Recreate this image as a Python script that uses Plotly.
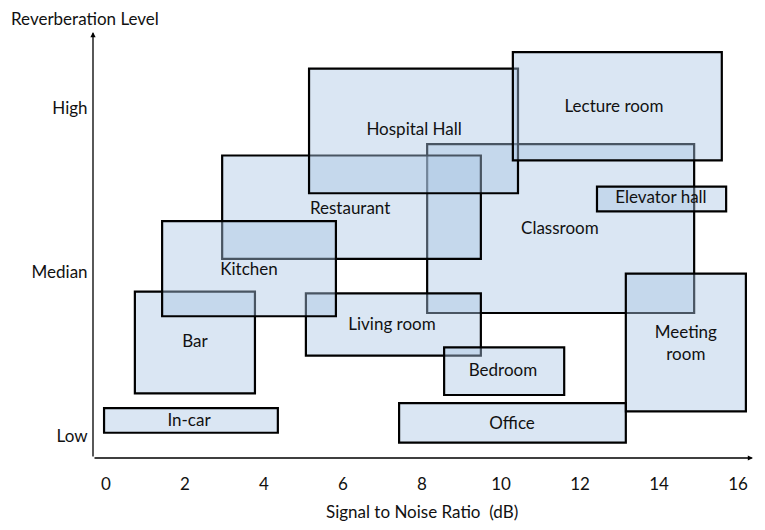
import plotly.graph_objects as go

# rooms, drawn bottom to top (later ones sit over earlier ones)
rooms = ['Classroom', 'Restaurant', 'Hospital Hall', 'Lecture room', 'Elevator hall',
         'Meeting room', 'Bar', 'Living room', 'Kitchen', 'Bedroom', 'Office', 'In-car']
snr_lo = [8.13, 2.94, 5.14, 10.30, 12.43, 13.16, 0.73, 5.06, 1.42, 8.56, 7.42, -0.05]
snr_hi = [14.89, 9.49, 10.43, 15.59, 15.70, 16.20, 3.77, 9.49, 5.82, 11.60, 13.16, 4.35]
rev_lo = [0.75, 1.08, 1.48, 1.68, 1.37, 0.15, 0.26, 0.49, 0.73, 0.25, -0.04, 0.02]
rev_hi = [1.78, 1.71, 2.24, 2.34, 1.52, 0.99, 0.88, 0.87, 1.31, 0.54, 0.20, 0.17]

# where each room name sits
label_x = [11.49, 6.18, 7.80, 12.86, 14.05, 14.68, 2.25, 7.24, 3.62, 10.05, 10.28, 2.10]
label_y = [1.26, 1.38, 1.86, 2.00, 1.445, 0.555, 0.57, 0.67, 1.01, 0.39, 0.07, 0.085]
label_text = ['Classroom', 'Restaurant', 'Hospital Hall', 'Lecture room', 'Elevator hall',
              'Meeting<br>room', 'Bar', 'Living room', 'Kitchen', 'Bedroom', 'Office', 'In-car']

x_ticks = [0, 2, 4, 6, 8, 10, 12, 14, 16]
y_ticks = [0, 1, 2]
y_ticktext = ['Low', 'Median', 'High']

FONT = 'Lato'
FILL = 'rgba(169,197,227,0.43)'
TXT = dict(family=FONT, size=17, color='#111111')

fig = go.Figure()
fig.add_trace(go.Scatter(x=label_x, y=label_y, mode='text', text=label_text,
                         textfont=TXT, hoverinfo='skip', showlegend=False))

for i in range(len(rooms)):
    fig.add_shape(type='rect', xref='x', yref='y',
                  x0=snr_lo[i], x1=snr_hi[i], y0=rev_lo[i], y1=rev_hi[i],
                  fillcolor=FILL, line=dict(color='black', width=2.2), layer='below')

# axis lines with arrow heads
fig.add_annotation(x=16.38, y=-0.134, ax=-0.33, ay=-0.134, xref='x', yref='y',
                   axref='x', ayref='y', showarrow=True, arrowhead=2, arrowsize=0.8,
                   arrowwidth=1.3, arrowcolor='black', text='')
fig.add_annotation(x=-0.33, y=2.463, ax=-0.33, ay=-0.134, xref='x', yref='y',
                   axref='x', ayref='y', showarrow=True, arrowhead=2, arrowsize=0.8,
                   arrowwidth=1.3, arrowcolor='black', text='')

fig.add_annotation(x=8, y=-0.134, xref='x', yref='y', yshift=-53, showarrow=False,
                   text='Signal to Noise Ratio&nbsp;&nbsp;(dB)', font=TXT)
fig.add_annotation(x=-84 / 660, y=1 + 13 / 426, xref='paper', yref='paper',
                   showarrow=False, text='Reverberation Level', xanchor='left',
                   yanchor='middle', font=TXT)

# page body has an 8px margin, so the figure is 8px smaller than the window
fig.update_layout(
    width=757, height=522,
    margin=dict(l=85, r=12, t=24, b=72),
    paper_bgcolor='white', plot_bgcolor='white',
    showlegend=False,
    xaxis=dict(range=[-0.33, 16.38], tickvals=x_ticks, showgrid=False, zeroline=False,
               showline=False, ticks='outside', ticklen=11, tickcolor='rgba(0,0,0,0)',
               tickfont=TXT),
    yaxis=dict(range=[-0.134, 2.463], tickvals=y_ticks, ticktext=y_ticktext,
               showgrid=False, zeroline=False, showline=False, ticks='outside',
               ticklen=1, tickcolor='rgba(0,0,0,0)', tickfont=TXT),
)

fig.write_html('out.html')
